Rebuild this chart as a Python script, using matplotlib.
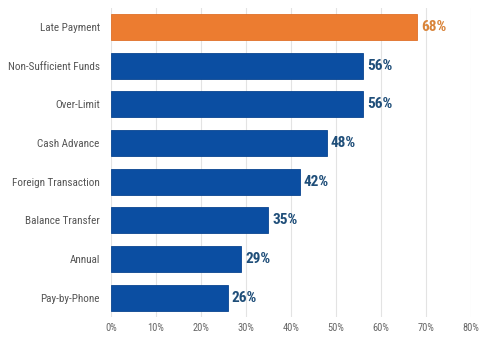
import matplotlib.pyplot as plt
from matplotlib import font_manager

categories = ["Late Payment", "Non-Sufficient Funds", "Over-Limit", "Cash Advance",
              "Foreign Transaction", "Balance Transfer", "Annual", "Pay-by-Phone"]
values = [68, 56, 56, 48, 42, 35, 29, 26]
xticks = [0, 10, 20, 30, 40, 50, 60, 70, 80]

available = {f.name for f in font_manager.fontManager.ttflist}
family = "Liberation Sans"
for name in ["Roboto Condensed", "Liberation Sans Narrow", "Open Sans Condensed",
             "Noto Sans Condensed", "DejaVu Sans Condensed"]:
    if name in available:
        family = name
        break
plt.rcParams["font.family"] = [family, "DejaVu Sans"]

orange = "#EC7C30"
blue = "#0B4EA2"

fig = plt.figure(figsize=(4.8, 3.41), dpi=100)
ax = fig.add_axes([0.231, 0.07, 0.75, 0.908])

y = list(range(len(categories)))
colors = [orange] + [blue] * (len(categories) - 1)
edges = ["#E07028"] + ["#0A4590"] * (len(categories) - 1)
ax.barh(y, values, height=0.67, color=colors, edgecolor=edges, linewidth=0.6, zorder=3)

for i, v in enumerate(values):
    ax.text(v + 0.9, i, f"{v}%", va="center", ha="left", fontsize=11, fontweight="bold",
            color="#D9843A" if i == 0 else "#1F4E79")

ax.set_ylim(len(categories) - 0.5, -0.5)
ax.set_xlim(0, 80)
ax.set_yticks(y)
ax.set_yticklabels(categories, fontsize=8, color="#555555")
ax.set_xticks(xticks)
ax.set_xticklabels([f"{t}%" for t in xticks], fontsize=7.5, color="#666666")
ax.tick_params(axis="x", length=0, pad=4)
ax.tick_params(axis="y", length=0, pad=8)
ax.grid(axis="x", color="#E3E3E3", linewidth=0.8, zorder=0)
for s in ax.spines.values():
    s.set_visible(False)

# shrink category labels if they would run past the left edge
fig.canvas.draw()
renderer = fig.canvas.get_renderer()
widest = max(t.get_window_extent(renderer).width for t in ax.get_yticklabels())
limit = 0.231 * 480 - 8 - 10
if widest > limit:
    size = 8 * limit / widest
    for t in ax.get_yticklabels():
        t.set_fontsize(size)

fig.savefig("out.png", dpi=100)
